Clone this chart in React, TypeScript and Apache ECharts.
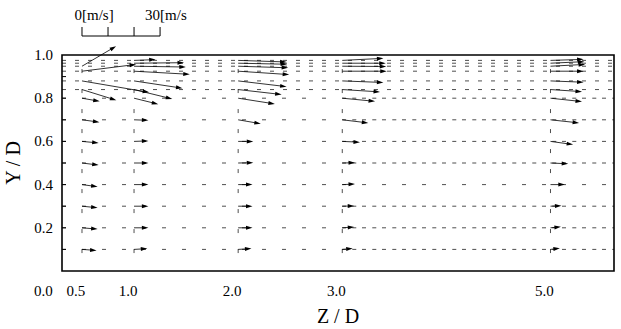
import React, { useEffect, useRef } from 'react';
import * as echarts from 'echarts';

// Measurement stations (Z/D) and measurement heights (Y/D)
const stations = [0.5, 1.0, 2.0, 3.0, 5.0];
const levels = [0.1, 0.2, 0.3, 0.4, 0.5, 0.6, 0.7, 0.8, 0.84, 0.88, 0.925, 0.948, 0.962, 0.975];

// Velocity components [m/s] per station, one per level (null = no vector)
const uZ05 = [5.6, 6.0, 6.0, 6.0, 6.4, 6.4, 6.7, 6.8, 13.2, 25.8, 20.8, 13.1, null, null];
const vZ05 = [-0.4, -0.5, -0.6, -0.8, -0.8, -0.6, -0.9, -1.2, -4.1, -4.4, 2.6, 7.7, null, null];
const uZ10 = [5.1, 5.5, 5.5, 5.5, 5.5, 5.5, 5.5, 9.3, 14.7, 18.6, 21.4, 19.9, 19.2, 8.3];
const vZ10 = [0.3, 0.0, 0.0, 0.0, 0.0, 0.2, -0.2, -2.3, -3.6, -2.8, -1.2, -0.3, 0.2, 0.3];
const uZ20 = [5.1, 5.5, 5.5, 5.5, 5.8, 5.8, 8.7, 14.1, 16.7, 18.6, 19.6, 19.2, 18.8, 18.6];
const vZ20 = [0.3, 0.0, 0.0, 0.0, 0.1, 0.0, -1.5, -2.2, -1.9, -2.2, -1.3, -0.6, -0.4, -0.6];
const uZ30 = [4.0, 4.6, 4.6, 4.9, 4.9, 6.8, 10.0, 12.6, 14.5, 15.8, 17.1, 16.9, 16.7, 15.8];
const vZ30 = [0.3, 0.3, 0.1, 0.2, 0.1, -0.3, -1.2, -1.2, -0.9, -0.6, 0.0, -0.1, 0.0, 0.8];
const uZ50 = [3.6, 4.0, 4.2, 5.5, 6.8, 8.7, 11.0, 12.1, 12.1, 12.7, 12.7, 13.3, 13.0, 12.7];
const vZ50 = [0.4, 0.4, 0.2, 0.0, -0.3, -1.2, -1.2, -1.3, -0.8, -0.5, 0.0, 0.7, 0.6, 0.4];

const uByStation = [uZ05, uZ10, uZ20, uZ30, uZ50];
const vByStation = [vZ05, vZ10, vZ20, vZ30, vZ50];

// Axis labels
const xTickLabels = [0.5, 1.0, 2.0, 3.0, 5.0];
const yTickLabels = [0.2, 0.4, 0.6, 0.8, 1.0];
const yTicks = [0.1, 0.2, 0.3, 0.4, 0.5, 0.6, 0.7, 0.8, 0.9];
// Velocity scale bar ticks [m/s]
const scaleTicks = [0, 10, 20, 30];
const scaleLabels = ['0[m/s]', '30[m/s'];

// Rows whose baseline shows a second dash train right of Z/D = 3
const denseRows = [0.1, 0.2, 0.3, 0.5, 0.6, 0.7, 0.8];

const MS_TO_Z = 0.025; // 1 m/s drawn as 0.025 Z/D units (isotropic in pixels)
const FONT = '"Liberation Serif", "Times New Roman", serif';

export default function App() {
  const ref = useRef<HTMLDivElement>(null);
  useEffect(() => {
    if (!ref.current) return;
    const chart = echarts.init(ref.current, undefined, { renderer: 'svg' });

    const arrows: number[][] = [];
    stations.forEach((z, si) => {
      levels.forEach((y, li) => {
        const u = uByStation[si][li];
        const v = vByStation[si][li];
        if (u !== null && v !== null) arrows.push([z, y, u as number, v as number]);
      });
    });

    const option: any = {
      animation: false,
      grid: {
        left: 62, right: 7, top: 55, bottom: 58,
        containLabel: false,
        outerBoundsMode: 'none',
        show: false,
      },
      xAxis: {
        type: 'value', min: 0.308, max: 5.61,
        name: 'Z / D', nameLocation: 'middle', nameGap: 35,
        nameTextStyle: { fontFamily: FONT, fontSize: 20, color: '#000' },
        axisLine: { show: false },
        axisTick: { show: false },
        splitLine: { show: false },
        axisLabel: {
          customValues: xTickLabels,
          formatter: (v: number) => v.toFixed(1),
          fontFamily: FONT, fontSize: 15, color: '#000', margin: 12,
          padding: [0, 12, 0, 0],
        },
      },
      yAxis: {
        type: 'value', min: 0, max: 1, interval: 0.1,
        name: 'Y / D', nameLocation: 'middle', nameGap: 29, nameRotate: 90,
        nameTextStyle: { fontFamily: FONT, fontSize: 20, color: '#000' },
        axisLine: { show: false },
        axisTick: { show: false },
        splitLine: { show: false },
        axisLabel: {
          customValues: yTickLabels,
          formatter: (v: number) => v.toFixed(1),
          fontFamily: FONT, fontSize: 15, color: '#000', margin: 9,
          padding: [10, 0, 0, 0],
        },
      },
      graphic: [
        { type: 'text', left: 34, top: 283, style: { text: '0.0', font: `15px ${FONT}`, fill: '#000' } },
      ],
      series: [
        // plot frame and inward y ticks
        {
          type: 'custom', silent: true, clip: false, z: 5,
          data: [[0.5, 0.5]],
          renderItem: (params: any, api: any) => {
            const cs = params.coordSys;
            const children: any[] = [
              { type: 'rect', shape: { x: cs.x, y: cs.y, width: cs.width, height: cs.height },
                style: { fill: 'none', stroke: '#000', lineWidth: 1.6 } },
            ];
            yTicks.forEach((t) => {
              const py = api.coord([0.5, t])[1];
              children.push({ type: 'line', shape: { x1: cs.x, y1: py, x2: cs.x + 4, y2: py },
                style: { stroke: '#000', lineWidth: 1 } });
            });
            return { type: 'group', children };
          },
        },
        // horizontal baselines (dashed)
        {
          type: 'custom', silent: true, clip: false,
          data: levels.map((y) => [0.5, y]),
          renderItem: (params: any, api: any) => {
            const cs = params.coordSys;
            const y = api.value(1);
            const py = api.coord([0.5, y])[1];
            const dash = y > 0.81 ? [4, 9] : [4, 16];
            const children: any[] = [
              { type: 'line', shape: { x1: cs.x, y1: py, x2: cs.x + cs.width, y2: py },
                style: { stroke: '#222', lineWidth: 0.8, lineDash: dash } },
            ];
            if (denseRows.some((r) => Math.abs(r - y) < 1e-6)) {
              const x3 = api.coord([3.0, y])[0];
              children.push({ type: 'line', shape: { x1: x3 + 10, y1: py, x2: cs.x + cs.width, y2: py },
                style: { stroke: '#222', lineWidth: 0.8, lineDash: [4, 16] } });
            }
            return { type: 'group', children };
          },
        },
        // vertical station lines (dashed), drawn bottom-up
        {
          type: 'custom', silent: true, clip: false,
          data: stations.map((z) => [z, 1.0]),
          renderItem: (params: any, api: any) => {
            const z = api.value(0);
            const top = api.coord([z, 1.0]);
            const bot = api.coord([z, 0.083]);
            return { type: 'line', shape: { x1: bot[0], y1: bot[1], x2: top[0], y2: top[1] },
              style: { stroke: '#222', lineWidth: 0.8, lineDash: [4, 16] } };
          },
        },
        // velocity vectors
        {
          type: 'custom', clip: false,
          data: arrows,
          encode: { x: 0, y: 1 },
          renderItem: (params: any, api: any) => {
            const p = api.coord([api.value(0), api.value(1)]);
            const k = api.size([1, 0])[0] * MS_TO_Z;
            const ex = p[0] + api.value(2) * k;
            const ey = p[1] - api.value(3) * k;
            const a = Math.atan2(ey - p[1], ex - p[0]);
            const c = Math.cos(a), s = Math.sin(a);
            const L = 6.5, W = 2;
            const bx = ex - L * c, by = ey - L * s;
            return {
              type: 'group',
              children: [
                { type: 'line', shape: { x1: p[0], y1: p[1], x2: bx + c, y2: by + s },
                  style: { stroke: '#000', lineWidth: 0.8 } },
                { type: 'polygon', shape: { points: [[ex, ey], [bx - W * s, by + W * c], [bx + W * s, by - W * c]] },
                  style: { fill: '#000' } },
              ],
            };
          },
        },
        // velocity scale bar
        {
          type: 'custom', clip: false, silent: true,
          data: [[0.5, 1.0]],
          renderItem: (params: any, api: any) => {
            const p = api.coord([api.value(0), api.value(1)]);
            const k = api.size([1, 0])[0] * MS_TO_Z;
            const y0 = p[1] - 19;
            const x0 = p[0];
            const maxV = scaleTicks[scaleTicks.length - 1];
            const children: any[] = [
              { type: 'line', shape: { x1: x0, y1: y0, x2: x0 + maxV * k, y2: y0 }, style: { stroke: '#000', lineWidth: 1 } },
            ];
            scaleTicks.forEach((t) => {
              children.push({ type: 'line', shape: { x1: x0 + t * k, y1: y0, x2: x0 + t * k, y2: y0 - 9 },
                style: { stroke: '#000', lineWidth: 1 } });
            });
            children.push({ type: 'text', x: x0 - 7.5, y: y0 - 21, style: { text: scaleLabels[0], font: `15px ${FONT}`, fill: '#000', textAlign: 'left', textVerticalAlign: 'middle' } });
            children.push({ type: 'text', x: x0 + maxV * k - 15, y: y0 - 21, style: { text: scaleLabels[1], font: `15px ${FONT}`, fill: '#000', textAlign: 'left', textVerticalAlign: 'middle' } });
            return { type: 'group', children };
          },
        },
      ],
    };
    chart.setOption(option);
    return () => chart.dispose();
  }, []);
  return <div ref={ref} style={{ width: 621, height: 329, position: 'absolute', left: 0, top: 0 }} />;
}
